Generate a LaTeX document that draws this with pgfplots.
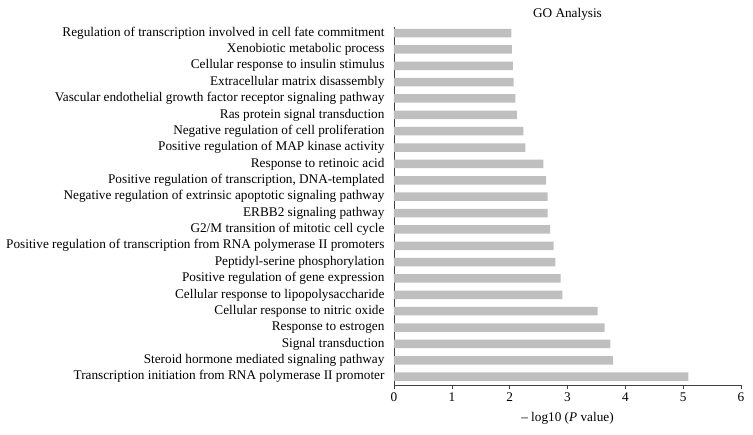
\documentclass[border=0pt]{standalone}
\usepackage{pgfplots}
\pgfplotsset{compat=1.18}
\usepackage{fontspec}
\setmainfont{Liberation Serif}
\definecolor{bargray}{HTML}{BFBFBF}
\definecolor{axgray}{HTML}{404040}

\begin{document}
\begin{tikzpicture}
\begin{axis}[
    scale only axis,
    width=347bp, height=358bp,
    xmin=0, xmax=6, ymin=0.49, ymax=22.37,
    xbar, bar width=8.5bp,
    axis x line*=bottom, axis y line*=left,
    axis line style={axgray, line width=0.8pt},
    xtick={0,...,6},
    tick align=outside,
    x tick style={axgray, line width=0.6pt},
    major tick length=4bp,
    ytick={1,...,22},
    y tick style={draw=none},
    yticklabels={
        Transcription initiation from RNA polymerase II promoter,
        Steroid hormone mediated signaling pathway,
        Signal transduction,
        Response to estrogen,
        Cellular response to nitric oxide,
        Cellular response to lipopolysaccharide,
        Positive regulation of gene expression,
        Peptidyl-serine phosphorylation,
        Positive regulation of transcription from RNA polymerase II promoters,
        G2/M transition of mitotic cell cycle,
        ERBB2 signaling pathway,
        Negative regulation of extrinsic apoptotic signaling pathway,
        {Positive regulation of transcription, DNA-templated},
        Response to retinoic acid,
        Positive regulation of MAP kinase activity,
        Negative regulation of cell proliferation,
        Ras protein signal transduction,
        Vascular endothelial growth factor receptor signaling pathway,
        Extracellular matrix disassembly,
        Cellular response to insulin stimulus,
        Xenobiotic metabolic process,
        Regulation of transcription involved in cell fate commitment
    },
    ticklabel style={font=\fontsize{13.3}{15}\selectfont},
    /pgf/number format/assume math mode=true,
    yticklabel style={xshift=-2bp},
    xticklabel style={yshift=-0.5bp},
    xlabel={\textendash\ log10 (\textit{P} value)},
    xlabel style={font=\fontsize{13.3}{15}\selectfont, yshift=-4bp},
    title={GO Analysis},
    title style={font=\fontsize{13.3}{15}\selectfont, yshift=-3bp},
]
\addplot[fill=bargray, draw=none] coordinates {
    (5.09,1) (3.79,2) (3.74,3) (3.64,4) (3.52,5) (2.91,6)
    (2.88,7) (2.79,8) (2.76,9) (2.70,10) (2.655,11) (2.655,12)
    (2.63,13) (2.585,14) (2.27,15) (2.235,16) (2.125,17) (2.10,18)
    (2.07,19) (2.055,20) (2.04,21) (2.03,22)
};
\end{axis}
\path (current axis.south west) ++(-394bp,-50bp) rectangle ++(753bp,435bp);
\end{tikzpicture}
\end{document}
